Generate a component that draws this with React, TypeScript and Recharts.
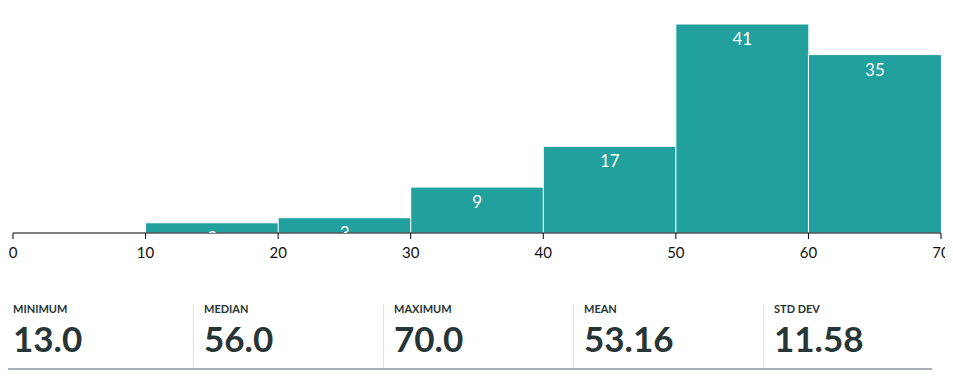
import React from 'react';
import { BarChart, Bar, XAxis, YAxis, LabelList } from 'recharts';

const binStarts = [0, 10, 20, 30, 40, 50, 60];
const binWidth = 10;
const counts = [0, 2, 3, 9, 17, 41, 35];
const axisTicks = [0, 10, 20, 30, 40, 50, 60, 70];
const statLabels = ['MINIMUM', 'MEDIAN', 'MAXIMUM', 'MEAN', 'STD DEV'];
const statValues = ['13.0', '56.0', '70.0', '53.16', '11.58'];

const data = binStarts.map((s, i) => ({ mid: s + binWidth / 2, count: counts[i] }));

const FONT = 'Lato, "Open Sans", sans-serif';
const TEAL = '#21a09d';

const ClippedLabel = (props: any) => {
  const { x, y, width, height, value, index } = props;
  if (!value) return null;
  const id = `lbl-clip-${index}`;
  return (
    <g>
      <defs>
        <clipPath id={id}>
          <rect x={x} y={y} width={width} height={height} />
        </clipPath>
      </defs>
      <text
        x={x + width / 2}
        y={y + 21}
        textAnchor="middle"
        fill="#ffffff"
        fontSize={17}
        fontFamily={FONT}
        clipPath={`url(#${id})`}
      >
        {value}
      </text>
    </g>
  );
};

const AxisTick = (props: any) => {
  const { x, y, payload } = props;
  return (
    <text x={x} y={y + 11} textAnchor="middle" fill="#111" fontSize={15} fontFamily={FONT}>
      {payload.value}
    </text>
  );
};

export default function App() {
  return (
    <div style={{ position: 'relative', width: 945, height: 366, fontFamily: FONT }}>
      <style>{`.recharts-surface, .recharts-wrapper { overflow: visible !important; }`}</style>
      <BarChart
        width={945}
        height={255}
        data={data}
        margin={{ top: 16, right: 12, bottom: 0, left: 5 }}
        barCategoryGap={0}
        barGap={0}
      >
        <XAxis
          dataKey="mid"
          type="number"
          domain={[0, 70]}
          ticks={axisTicks}
          height={30}
          axisLine={{ stroke: '#000', strokeWidth: 1 }}
          tickLine={{ stroke: '#000' }}
          tickSize={6}
          tick={<AxisTick />}
          tickMargin={8}
          interval={0}
        />
        <YAxis hide domain={[0, 41]} />
        <Bar
          dataKey="count"
          fill={TEAL}
          stroke="#ffffff"
          strokeWidth={1}
          isAnimationActive={false}
        >
          <LabelList dataKey="count" content={ClippedLabel} />
        </Bar>
      </BarChart>
      <div
        style={{
          position: 'absolute',
          left: -5,
          top: 295,
          width: 929,
          height: 65,
          borderBottom: '2px solid #aab1ba',
          display: 'flex',
          overflow: 'hidden',
        }}
      >
        {statLabels.map((l, i) => (
          <div
            key={l}
            style={{
              width: 190,
              flex: '0 0 190px',
              boxSizing: 'border-box',
              paddingLeft: i === 0 ? 10 : 11,
              color: '#263535',
              position: 'relative',
            }}
          >
            {i > 0 && (
              <div
                style={{
                  position: 'absolute',
                  left: 0,
                  top: 1,
                  bottom: 0,
                  width: 1,
                  background: '#dfe2e6',
                }}
              />
            )}
            <div style={{ fontSize: 11, fontWeight: 700, lineHeight: '11px' }}>{l}</div>
            <div style={{ fontSize: 35, fontWeight: 700, lineHeight: '35px', marginTop: 7 }}>
              {statValues[i]}
            </div>
          </div>
        ))}
      </div>
    </div>
  );
}
